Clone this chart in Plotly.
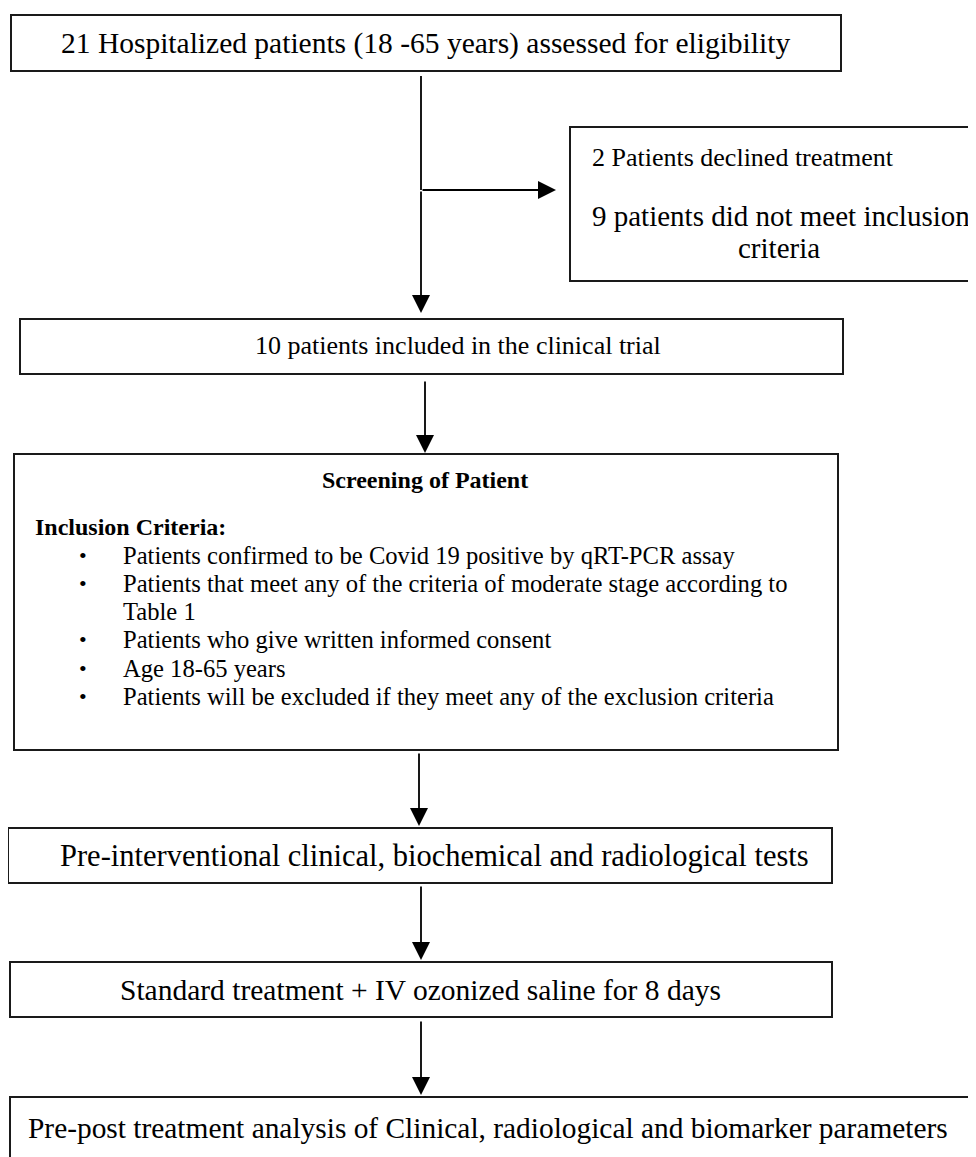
"""
Patient flow diagram of the ozonized saline clinical trial, drawn with Plotly shapes and annotations.
"""

import plotly.graph_objects as go

# ---- texts of the diagram ----
enrolment_text = "21 Hospitalized patients (18 -65 years) assessed for eligibility"
excluded_lines = [
    "2 Patients declined treatment",
    "9 patients did not meet inclusion",
    "criteria",
]
included_text = "10 patients included in the clinical trial"
screening_title = "Screening of Patient"
criteria_heading = "Inclusion Criteria:"
criteria_lines = [
    "Patients confirmed to be Covid 19 positive by qRT-PCR assay",
    "Patients that meet any of the criteria of moderate stage according to",
    "Table 1",
    "Patients who give written informed consent",
    "Age 18-65 years",
    "Patients will be excluded if they meet any of the exclusion criteria",
]
criteria_bullets = [True, True, False, True, True, True]
pretest_text = "Pre-interventional clinical, biochemical and radiological tests"
treatment_text = "Standard treatment + IV ozonized saline for 8 days"
analysis_text = "Pre-post treatment analysis of Clinical, radiological and biomarker parameters"

W, H = 976, 1157
PAD = 8  # the page body has an 8px margin, shift the axes so units = page pixels
FONT = "Liberation Serif, Times New Roman, serif"
LINE = "#1a1a1a"

fig = go.Figure()
shapes = []
annotations = []


def box(x0, y0, x1, y1):
    shapes.append(dict(type="rect", xref="x", yref="y", x0=x0, y0=y0, x1=x1, y1=y1,
                       line=dict(color=LINE, width=2), fillcolor="white", layer="below"))


def label(text, x, y, size=26, anchor="center", bold=False):
    if bold:
        text = "<b>" + text + "</b>"
    annotations.append(dict(text=text, x=x, y=y, xref="x", yref="y", showarrow=False,
                            xanchor=anchor, yanchor="middle",
                            font=dict(family=FONT, size=size, color="black")))


def arrow(x0, y0, x1, y1):
    annotations.append(dict(text="", x=x1, y=y1, ax=x0, ay=y0, xref="x", yref="y",
                            axref="x", ayref="y", showarrow=True, arrowhead=2,
                            arrowsize=2.0, arrowwidth=1.8, arrowcolor="black"))


# boxes
box(11, 15, 841, 71)
box(570, 127, 990, 281)
box(20, 319, 843, 374)
box(14, 454, 838, 750)
box(8, 828, 832, 883)
box(10, 962, 832, 1017)
box(10, 1097, 970, 1175)

# texts
label(enrolment_text, 425, 43, size=29.5)
label(excluded_lines[0], 743, 157, size=26)
label(excluded_lines[1], 781, 216, size=29)
label(excluded_lines[2], 779, 248, size=29)
label(included_text, 458, 345, size=26)
label(screening_title, 425, 480, size=24, bold=True)
label(criteria_heading, 33, 527, size=24, anchor="left", bold=True)
for i, (txt, has_bullet) in enumerate(zip(criteria_lines, criteria_bullets)):
    yc = 555 + i * 28.3
    if has_bullet:
        label("•", 77, yc, size=22, anchor="left")
    label(txt, 121, yc, size=24.6, anchor="left")
label(pretest_text, 434, 856, size=30.5)
label(treatment_text, 420, 990, size=29.5)
label(analysis_text, 488, 1128, size=29.4)

# connectors
shapes.append(dict(type="line", xref="x", yref="y", x0=421, y0=76, x1=421, y1=190,
                   line=dict(color="black", width=1.8)))
arrow(421, 190, 421, 313)
arrow(421, 190, 556, 190)
arrow(425, 380, 425, 453)
arrow(419, 752, 419, 826)
arrow(421, 885, 421, 960)
arrow(421, 1020, 421, 1095)

fig.update_layout(
    width=W,
    height=H,
    margin=dict(l=0, r=0, t=0, b=0),
    paper_bgcolor="white",
    plot_bgcolor="white",
    showlegend=False,
    shapes=shapes,
    annotations=annotations,
    xaxis=dict(range=[PAD, W + PAD], visible=False, fixedrange=True),
    yaxis=dict(range=[H + PAD, PAD], visible=False, fixedrange=True),
)

fig.write_html("out.html")
